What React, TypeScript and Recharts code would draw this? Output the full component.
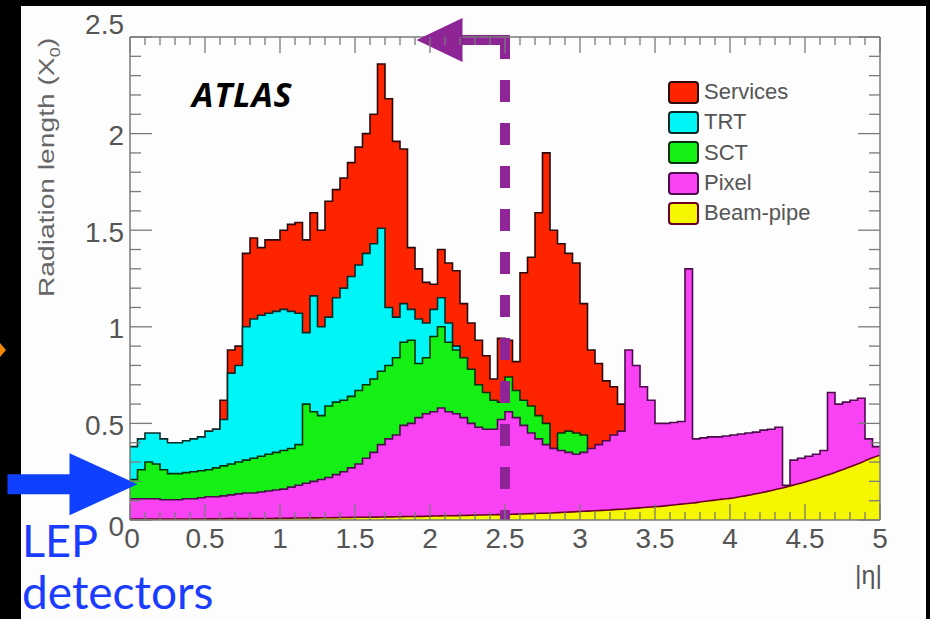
import React from 'react';
import { ComposedChart, Area, XAxis, YAxis, ReferenceLine, ReferenceDot } from 'recharts';

// |eta| bin starts (0.05 wide), last entry closes the histogram at 5
const etaBins = [
  0, 0.05, 0.1, 0.15, 0.2, 0.25, 0.3, 0.35, 0.4, 0.45,
  0.5, 0.55, 0.6, 0.65, 0.7, 0.75, 0.8, 0.85, 0.9, 0.95,
  1, 1.05, 1.1, 1.15, 1.2, 1.25, 1.3, 1.35, 1.4, 1.45,
  1.5, 1.55, 1.6, 1.65, 1.7, 1.75, 1.8, 1.85, 1.9, 1.95,
  2, 2.05, 2.1, 2.15, 2.2, 2.25, 2.3, 2.35, 2.4, 2.45,
  2.5, 2.55, 2.6, 2.65, 2.7, 2.75, 2.8, 2.85, 2.9, 2.95,
  3, 3.05, 3.1, 3.15, 3.2, 3.25, 3.3, 3.35, 3.4, 3.45,
  3.5, 3.55, 3.6, 3.65, 3.7, 3.75, 3.8, 3.85, 3.9, 3.95,
  4, 4.05, 4.1, 4.15, 4.2, 4.25, 4.3, 4.35, 4.4, 4.45,
  4.5, 4.55, 4.6, 4.65, 4.7, 4.75, 4.8, 4.85, 4.9, 4.95,
  5,
];

// cumulative tops of the stacked histogram (X0), null where the layer is absent
const services = [
  null, null, null, null, null, null, null, null, null, null,
  null, 0.47, 0.62, 0.88, 0.9, 1.38, 1.46, 1.41, 1.45, 1.45,
  1.5, 1.53, 1.54, 1.45, 1.59, 1.5, 1.65, 1.71, 1.77, 1.85,
  1.93, 2.0, 2.1, 2.36, 2.18, 1.96, 1.92, 1.41, 1.3, 1.23,
  1.22, 1.4, 1.33, 1.29, 1.12, 1.02, 0.93, 0.85, 0.73, 0.94,
  0.93, 0.82, 1.28, 1.36, 1.59, 1.9, 1.5, 1.43, 1.38, 1.33,
  1.12, 0.88, 0.81, 0.72, 0.69, 0.6, 0.46, null, null, null,
  null, null, null, null, null, null, null, null, null, null,
  null, null, null, null, null, null, null, null, null, null,
  null, null, null, null, null, null, null, null, null, null,
  null,
];

const trt = [
  0.38, 0.42, 0.45, 0.45, 0.42, 0.4, 0.4, 0.41, 0.42, 0.43,
  0.46, 0.47, 0.52, 0.76, 0.8, 1.0, 1.04, 1.06, 1.07, 1.08,
  1.09, 1.08, 1.07, 0.97, 1.16, 1.0, 1.05, 1.15, 1.2, 1.26,
  1.32, 1.38, 1.43, 1.51, 1.1, 1.05, 1.12, 1.09, 1.04, 1.02,
  1.09, 1.15, 1.02, 0.9, 0.84, null, null, null, null, null,
  null, null, null, null, null, null, null, null, null, null,
  null, null, null, null, null, null, null, null, null, null,
  null, null, null, null, null, null, null, null, null, null,
  null, null, null, null, null, null, null, null, null, null,
  null, null, null, null, null, null, null, null, null, null,
  null,
];

const sct = [
  0.21, 0.26, 0.3, 0.29, 0.26, 0.24, 0.24, 0.245, 0.25, 0.255,
  0.26, 0.27, 0.28, 0.29, 0.3, 0.31, 0.32, 0.33, 0.34, 0.35,
  0.36, 0.37, 0.39, 0.6, 0.56, 0.54, 0.59, 0.61, 0.62, 0.64,
  0.67, 0.7, 0.73, 0.77, 0.8, 0.84, 0.92, 0.93, 0.81, 0.84,
  0.95, 1.0, 0.92, 0.88, 0.84, 0.78, 0.7, 0.66, 0.62, 0.61,
  0.74, 0.67, 0.62, 0.59, 0.54, 0.5, 0.37, 0.45, 0.46, 0.45,
  0.44, 0.37, null, null, null, null, null, null, null, null,
  null, null, null, null, null, null, null, null, null, null,
  null, null, null, null, null, null, null, null, null, null,
  null, null, null, null, null, null, null, null, null, null,
  null,
];

const pixel = [
  0.11, 0.11, 0.11, 0.11, 0.105, 0.105, 0.105, 0.11, 0.11, 0.115,
  0.12, 0.12, 0.125, 0.13, 0.135, 0.14, 0.14, 0.145, 0.15, 0.155,
  0.16, 0.17, 0.18, 0.19, 0.2, 0.21, 0.22, 0.235, 0.25, 0.27,
  0.29, 0.32, 0.35, 0.39, 0.42, 0.44, 0.49, 0.5, 0.53, 0.55,
  0.56, 0.58, 0.56, 0.55, 0.53, 0.5, 0.48, 0.47, 0.47, 0.52,
  0.56, 0.53, 0.49, 0.45, 0.42, 0.39, 0.37, 0.36, 0.35, 0.34,
  0.35, 0.37, 0.39, 0.41, 0.44, 0.46, 0.88, 0.8, 0.69, 0.62,
  0.5, 0.5, 0.505, 0.51, 1.3, 0.42, 0.425, 0.43, 0.43, 0.435,
  0.44, 0.445, 0.45, 0.455, 0.465, 0.47, 0.48, 0.18, 0.31, 0.32,
  0.33, 0.34, 0.36, 0.66, 0.6, 0.61, 0.62, 0.63, 0.42, 0.38,
  0.375,
];

const beamPipe = [
  0.005, 0.005, 0.005, 0.005, 0.005, 0.005, 0.005, 0.005, 0.005, 0.005,
  0.006, 0.006, 0.006, 0.007, 0.007, 0.007, 0.007, 0.008, 0.008, 0.008,
  0.009, 0.009, 0.01, 0.01, 0.011, 0.011, 0.012, 0.012, 0.013, 0.013,
  0.014, 0.014, 0.015, 0.015, 0.016, 0.016, 0.017, 0.018, 0.018, 0.019,
  0.02, 0.021, 0.022, 0.022, 0.023, 0.024, 0.025, 0.026, 0.027, 0.028,
  0.029, 0.03, 0.031, 0.032, 0.034, 0.035, 0.036, 0.038, 0.04, 0.042,
  0.044, 0.046, 0.048, 0.05, 0.052, 0.055, 0.057, 0.06, 0.063, 0.066,
  0.069, 0.072, 0.076, 0.08, 0.084, 0.088, 0.093, 0.098, 0.103, 0.108,
  0.112, 0.118, 0.125, 0.132, 0.14, 0.148, 0.157, 0.166, 0.176, 0.186,
  0.197, 0.208, 0.22, 0.233, 0.246, 0.26, 0.275, 0.29, 0.306, 0.322,
  0.335,
];

const xTicks = [
  0, 0.1, 0.2, 0.3, 0.4, 0.5, 0.6, 0.7, 0.8, 0.9, 1, 1.1, 1.2, 1.3, 1.4, 1.5, 1.6, 1.7, 1.8, 1.9,
  2, 2.1, 2.2, 2.3, 2.4, 2.5, 2.6, 2.7, 2.8, 2.9, 3, 3.1, 3.2, 3.3, 3.4, 3.5, 3.6, 3.7, 3.8, 3.9,
  4, 4.1, 4.2, 4.3, 4.4, 4.5, 4.6, 4.7, 4.8, 4.9, 5,
];
const yTicks = [
  0, 0.1, 0.2, 0.3, 0.4, 0.5, 0.6, 0.7, 0.8, 0.9, 1, 1.1, 1.2, 1.3, 1.4, 1.5, 1.6, 1.7, 1.8, 1.9,
  2, 2.1, 2.2, 2.3, 2.4, 2.5,
];

const seriesKeys = ['services', 'trt', 'sct', 'pixel', 'beam'];
const seriesNames = ['Services', 'TRT', 'SCT', 'Pixel', 'Beam-pipe'];
const seriesFills = ['#ff2400', '#00f6f6', '#14f014', '#f842f4', '#f6f600'];
const seriesStrokes = ['#2a0a0a', '#0a2a2a', '#0a300a', '#4a0c4c', '#6a0024'];

// annotation anchors (data units)
const cutEta = 2.5;
const arrowY = 2.485;
const arrowShaftEta = [2.21, 2.533];
const arrowTipEta = 1.91;
const lepTip = [0.05, 0.185];

const data = etaBins.map((eta, i) => ({
  eta,
  services: services[i],
  trt: trt[i],
  sct: sct[i],
  pixel: pixel[i],
  beam: beamPipe[i],
}));

const axisColor = '#7a7a7a';
const textColor = '#555';
const sans = '"Liberation Sans", Arial, Helvetica, sans-serif';
const purple = '#8e2496';

const isMajor = (v: number) => Math.abs(v * 2 - Math.round(v * 2)) < 1e-6;
const fmt = (v: number) => String(Math.round(v * 10) / 10);

const BottomTick = (props: any) => {
  const { x, y, payload } = props;
  const major = isMajor(payload.value);
  return (
    <g>
      <line x1={x} x2={x} y1={y} y2={y - (major ? 16 : 8)} stroke={axisColor} strokeWidth={1.3} />
      {major && (
        <text x={x + (payload.value === 0 ? 2 : 0)} y={y + 28} textAnchor="middle" fontSize={28} fill={textColor} fontFamily={sans}>
          {fmt(payload.value)}
        </text>
      )}
    </g>
  );
};

const TopTick = (props: any) => {
  const { x, y, payload } = props;
  const major = isMajor(payload.value);
  return <line x1={x} x2={x} y1={y} y2={y + (major ? 16 : 8)} stroke={axisColor} strokeWidth={1.3} />;
};

const LeftTick = (props: any) => {
  const { x, y, payload } = props;
  const v = payload.value;
  const major = isMajor(v);
  const dy = v === 2.5 ? -13 : v === 0 ? 6 : 2;
  return (
    <g>
      <line x1={x} x2={x + (major ? 22 : 11)} y1={y} y2={y} stroke={axisColor} strokeWidth={1.3} />
      {major && (
        <text x={x - 6} y={y + dy} textAnchor="end" dominantBaseline="central" fontSize={28} fill={textColor} fontFamily={sans}>
          {fmt(v)}
        </text>
      )}
    </g>
  );
};

const RightTick = (props: any) => {
  const { x, y, payload } = props;
  const major = isMajor(payload.value);
  return <line x1={x} x2={x - (major ? 22 : 11)} y1={y} y2={y} stroke={axisColor} strokeWidth={1.3} />;
};

const ArrowHead = (props: any) => {
  const { cx, cy } = props;
  return <polygon points={`${cx},${cy} ${cx + 46},${cy - 22} ${cx + 46},${cy + 22}`} fill={purple} />;
};

const BlueArrow = (props: any) => {
  const { cx, cy } = props;
  const pts = [
    [cx, cy], [cx - 68, cy - 31], [cx - 68, cy - 10], [cx - 130, cy - 10],
    [cx - 130, cy + 10], [cx - 68, cy + 10], [cx - 68, cy + 31],
  ];
  return <polygon points={pts.map((p) => p.join(',')).join(' ')} fill="#1040ff" />;
};

export default function App() {
  return (
    <div style={{ position: 'absolute', left: 0, top: 0, width: 930, height: 619, background: '#000', overflow: 'hidden' }}>
      <div style={{ position: 'absolute', left: 21, top: 6, width: 905, height: 613, background: '#fdfdfd' }} />
      <ComposedChart
        width={930}
        height={619}
        data={data}
        margin={{ top: 36, right: 49, bottom: 98, left: 129 }}
        style={{ position: 'absolute', left: 0, top: 0 }}
      >
        <XAxis xAxisId="b" type="number" dataKey="eta" domain={[0, 5]} allowDataOverflow ticks={xTicks} interval={0}
          height={1} tickSize={0} tickMargin={0} tickLine={false} tick={BottomTick} axisLine={{ stroke: axisColor, strokeWidth: 1.5 }} />
        <XAxis xAxisId="t" orientation="top" type="number" dataKey="eta" domain={[0, 5]} allowDataOverflow ticks={xTicks} interval={0}
          height={1} tickSize={0} tickMargin={0} tickLine={false} tick={TopTick} axisLine={{ stroke: axisColor, strokeWidth: 1.5 }} />
        <YAxis yAxisId="l" type="number" domain={[0, 2.5]} allowDataOverflow ticks={yTicks} interval={0}
          width={1} tickSize={0} tickMargin={0} tickLine={false} tick={LeftTick} axisLine={{ stroke: axisColor, strokeWidth: 1.5 }} />
        <YAxis yAxisId="r" orientation="right" type="number" domain={[0, 2.5]} allowDataOverflow ticks={yTicks} interval={0}
          width={1} tickSize={0} tickMargin={0} tickLine={false} tick={RightTick} axisLine={{ stroke: axisColor, strokeWidth: 1.5 }} />
        {seriesKeys.map((k, i) => (
          <Area
            key={k}
            xAxisId="b"
            yAxisId="l"
            dataKey={k}
            name={seriesNames[i]}
            type={k === 'beam' ? 'monotone' : 'stepAfter'}
            fill={seriesFills[i]}
            fillOpacity={1}
            stroke={seriesStrokes[i]}
            strokeWidth={1.6}
            dot={false}
            activeDot={false}
            isAnimationActive={false}
          />
        ))}
        <ReferenceLine xAxisId="b" yAxisId="l" segment={[{ x: cutEta, y: 2.5 }, { x: cutEta, y: 0 }]}
          stroke={purple} strokeWidth={10} strokeDasharray="22 21" ifOverflow="visible" />
        <ReferenceLine xAxisId="b" yAxisId="l" segment={[{ x: arrowShaftEta[0], y: arrowY }, { x: arrowShaftEta[1], y: arrowY }]}
          stroke={purple} strokeWidth={10} ifOverflow="visible" />
        <ReferenceDot xAxisId="b" yAxisId="l" x={arrowTipEta} y={arrowY} shape={ArrowHead} ifOverflow="visible" />
        <ReferenceDot xAxisId="b" yAxisId="l" x={lepTip[0]} y={lepTip[1]} shape={BlueArrow} ifOverflow="visible" />
      </ComposedChart>

      <svg width={930} height={619} style={{ position: 'absolute', left: 0, top: 0, pointerEvents: 'none' }}>
        <polygon points="0,343 6,350 0,357" fill="#f08a00" />
        <text transform="rotate(-90)" x={-38} y={54} textAnchor="end" fontSize={22} fill="#666" fontFamily={sans}
          textLength={259} lengthAdjust="spacingAndGlyphs">
          Radiation length (X<tspan fontSize={14} dy={6}>0</tspan><tspan dy={-6}>)</tspan>
        </text>
        <text x={882} y={584} textAnchor="end" fontSize={25} fill={textColor} fontFamily={sans}>|η|</text>
        <text x={192} y={107} fontSize={34} fontWeight={700} fontStyle="italic" fill="#000" fontFamily='"Open Sans", sans-serif' letterSpacing={0.8}>
          ATLAS
        </text>
        <text x={22} y={557} fontSize={45} fill="#1a3cff" fontFamily="Lato, sans-serif">LEP</text>
        <text x={22} y={609} fontSize={46} fill="#1a3cff" fontFamily="Lato, sans-serif">detectors</text>
      </svg>

      <div style={{ position: 'absolute', left: 668, top: 77, fontFamily: sans }}>
        {seriesNames.map((n, i) => (
          <div key={n} style={{ display: 'flex', alignItems: 'center', height: 30.3 }}>
            <div style={{ width: 27, height: 19, background: seriesFills[i], border: `2px solid ${seriesStrokes[i]}`, borderRadius: 4 }} />
            <span style={{ marginLeft: 5, fontSize: 22, color: textColor, lineHeight: '22px' }}>{n}</span>
          </div>
        ))}
      </div>
    </div>
  );
}
